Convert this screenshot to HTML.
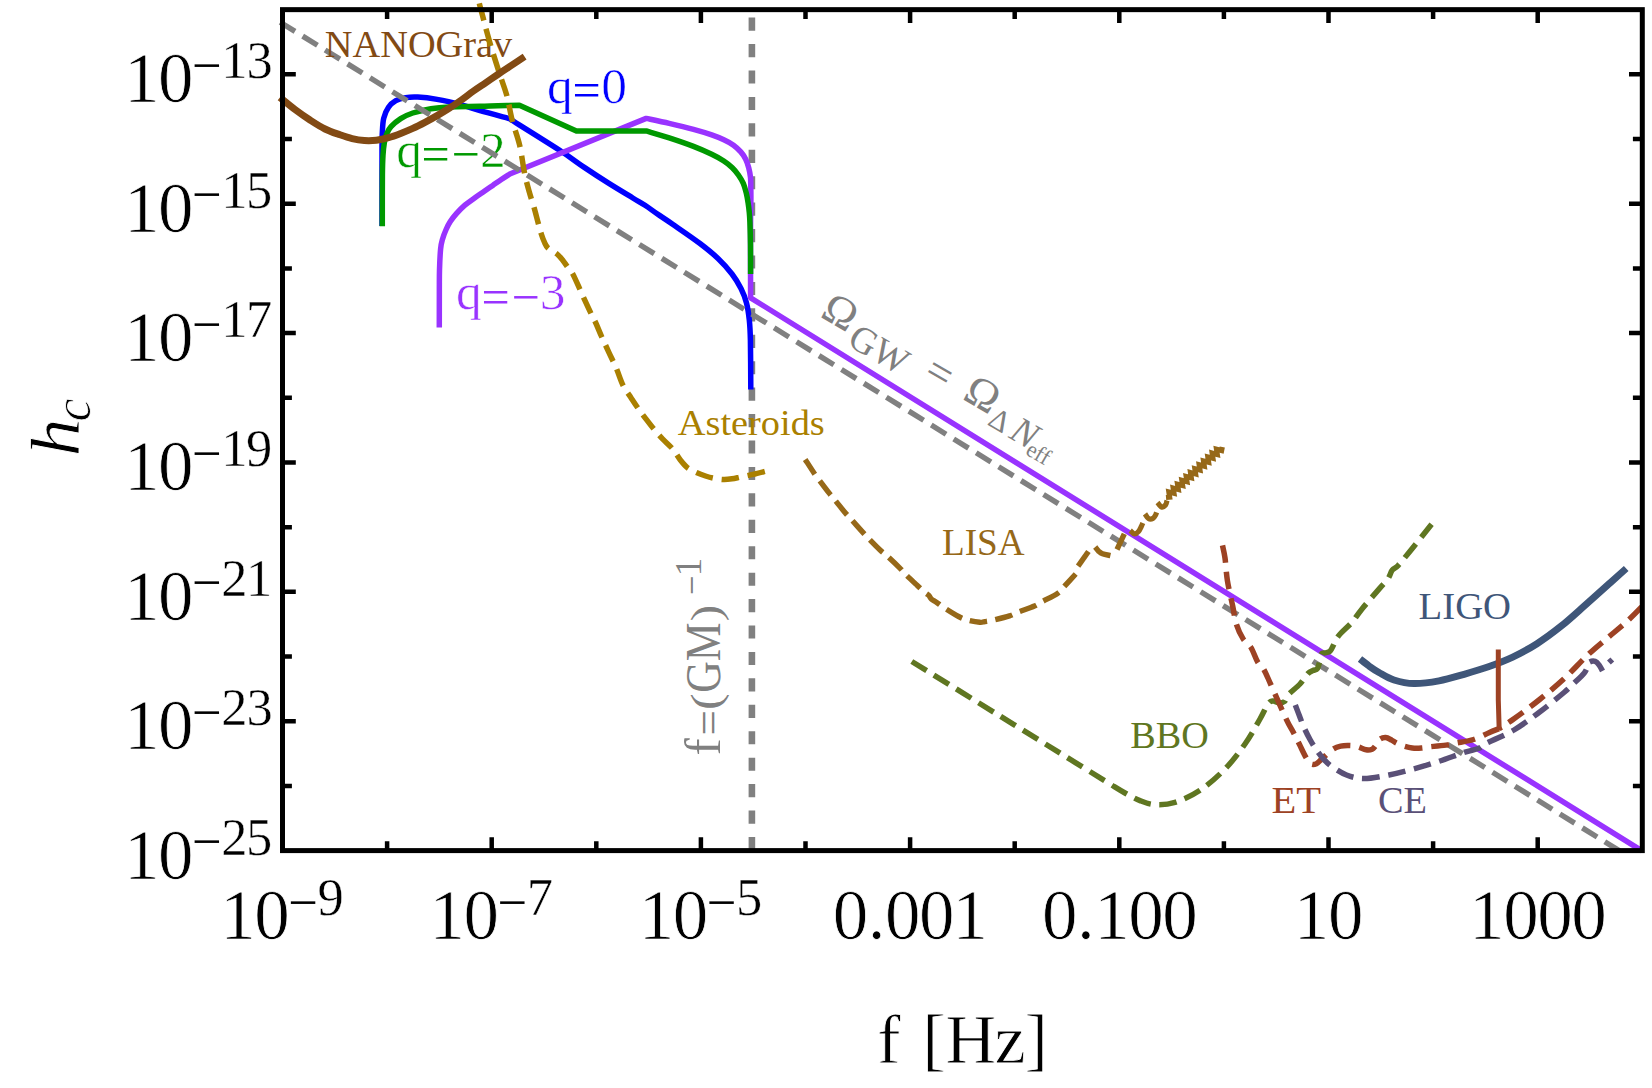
<!DOCTYPE html>
<html><head><meta charset="utf-8"><title>h_c vs f</title>
<style>html,body{margin:0;padding:0;background:#fff;}body{width:1652px;height:1088px;overflow:hidden;}svg text{white-space:pre;}</style></head>
<body>
<svg width="1652" height="1088" viewBox="0 0 1652 1088" font-family="'Liberation Serif', serif" style="display:block">
<line x1="751.9" y1="17.6" x2="751.9" y2="850" stroke="#808080" stroke-width="6.6" stroke-dasharray="13.13 13.3"/>
<path d="M382 226 C382 213.33 381.95 165.5 382 150 C382.05 134.5 382.02 138.28 382.3 133 C382.58 127.72 382.67 122.58 383.7 118.3 C384.73 114.02 386.48 110.23 388.5 107.3 C390.52 104.37 392.97 102.32 395.8 100.7 C398.63 99.08 401.85 98.22 405.5 97.6 C409.15 96.98 412.43 96.7 417.7 97 C422.97 97.3 429.82 98.08 437.1 99.4 C444.38 100.72 454.25 103.03 461.4 104.9 C468.55 106.77 472.05 108.33 480 110.6 C487.95 112.87 504.25 117.18 509.1 118.5  C517.4 123.72 546.37 141.65 558.9 149.8 C571.43 157.95 576.03 161.83 584.3 167.4 C592.57 172.97 600.42 178.1 608.5 183.2 C616.58 188.3 626.72 194.32 632.8 198 C638.88 201.68 640.95 202.67 645 205.3 C649.05 207.93 652.43 210.6 657.1 213.8 C661.77 217 665.85 219.55 673 224.5 C680.15 229.45 692.5 237.83 700 243.5 C707.5 249.17 712.67 253.42 718 258.5 C723.33 263.58 728.17 269 732 274 C735.83 279 738.58 283.67 741 288.5 C743.42 293.33 745.12 297.75 746.5 303 C747.88 308.25 748.65 313.83 749.3 320 C749.95 326.17 750.15 328.42 750.4 340 C750.65 351.58 750.73 381.25 750.8 389.5" fill="none" stroke="#0000ff" stroke-width="5.5" stroke-linejoin="round"/>
<path d="M439.3 327.5 C439.31 321.25 439.32 299.58 439.35 290 C439.38 280.42 439.29 276.85 439.5 270 C439.71 263.15 440.1 254.03 440.6 248.9 C441.1 243.77 441.58 242.43 442.5 239.2 C443.42 235.97 444.8 232.43 446.1 229.5 C447.4 226.57 448.58 224.23 450.3 221.6 C452.02 218.97 453.97 216.43 456.4 213.7 C458.83 210.97 461.87 207.82 464.9 205.2 C467.93 202.58 471.37 200.32 474.6 198 C477.83 195.68 481.27 193.4 484.3 191.3 C487.33 189.2 489.97 187.37 492.8 185.4 C495.63 183.43 498.47 181.4 501.3 179.5 C504.13 177.6 508.38 174.92 509.8 174  L646.2 118.4  C650.03 119.23 661.32 121.57 669.2 123.4 C677.08 125.23 686.42 127.48 693.5 129.4 C700.58 131.32 706.65 133.17 711.7 134.9 C716.75 136.63 720.17 138.08 723.8 139.8 C727.43 141.52 730.67 143.18 733.5 145.2 C736.33 147.22 738.77 149.57 740.8 151.9 C742.83 154.23 744.38 156.57 745.7 159.2 C747.02 161.83 747.9 164.67 748.7 167.7 C749.5 170.73 750.15 174.17 750.5 177.4 C750.85 180.63 750.73 183.47 750.8 187.1 C750.87 190.73 750.93 194.55 750.9 199.2 C750.87 203.85 750.67 209.03 750.6 215 C750.53 220.97 750.52 227.5 750.5 235 C750.48 242.5 750.48 249.53 750.5 260 C750.52 270.47 750.58 291.5 750.6 297.8  L1642 850.8" fill="none" stroke="#9933ff" stroke-width="5.5" stroke-linejoin="round"/>
<path d="M382.3 226.3 C382.32 217.75 382.28 186.88 382.4 175 C382.52 163.12 382.68 160.33 383 155 C383.32 149.67 383.7 146.5 384.3 143 C384.9 139.5 385.48 136.72 386.6 134 C387.72 131.28 388.65 129.27 391 126.7 C393.35 124.13 397.07 120.88 400.7 118.6 C404.33 116.32 407.75 114.65 412.8 113 C417.85 111.35 424.93 109.72 431 108.7 C437.07 107.68 441.03 107.3 449.2 106.9 C457.37 106.5 471.9 106.5 480 106.3 C488.1 106.1 491.23 105.88 497.8 105.7 C504.37 105.52 515.8 105.28 519.4 105.2  L576.4 130.9  L646.2 130.9  C650.03 132.07 661.32 135.32 669.2 137.9 C677.08 140.48 686.42 143.67 693.5 146.4 C700.58 149.13 706.65 151.87 711.7 154.3 C716.75 156.73 720.37 158.77 723.8 161 C727.23 163.23 729.87 165.37 732.3 167.7 C734.73 170.03 736.57 172.38 738.4 175 C740.23 177.62 741.98 180.37 743.3 183.4 C744.62 186.43 745.5 189.95 746.3 193.2 C747.1 196.45 747.6 199.67 748.1 202.9 C748.6 206.13 749 209.42 749.3 212.6 C749.6 215.78 749.7 216.6 749.9 222 C750.1 227.4 750.38 236.33 750.5 245 C750.62 253.67 750.58 269.17 750.6 274" fill="none" stroke="#009900" stroke-width="5.5" stroke-linejoin="round"/>
<text font-size="51.5" fill="#0000ff" stroke="#fff" stroke-width="0.6"><tspan x="546.97" y="102.6">q</tspan><tspan x="572.4" y="107.2" font-size="50" stroke="none">=</tspan><tspan x="601.23" y="102.6">0</tspan></text>
<text font-size="51.5" fill="#009900" stroke="#fff" stroke-width="0.6"><tspan x="396.27" y="166.6">q</tspan><tspan x="421.45" y="171.2" font-size="50" stroke="none">=</tspan><tspan x="451.5" y="171.2" font-size="50" stroke="none">−</tspan><tspan x="480.02" y="166.6">2</tspan></text>
<text font-size="51.5" fill="#9933ff" stroke="#fff" stroke-width="0.6"><tspan x="455.97" y="309.4">q</tspan><tspan x="481.6" y="314" font-size="50" stroke="none">=</tspan><tspan x="511.5" y="314" font-size="50" stroke="none">−</tspan><tspan x="539.77" y="309.4">3</tspan></text>
<line x1="280.2" y1="22.23" x2="1621.5" y2="852.09" stroke="#808080" stroke-width="5.4" stroke-dasharray="17.4 9"/>
<text x="324.8" y="56.6" font-size="37.8" fill="#824a14" textLength="187.5" lengthAdjust="spacingAndGlyphs">NANOGrav</text>
<path d="M479.3 3.4 C479.42 3.85 479.27 3.33 480 6.1 C480.73 8.87 482.73 16.32 483.7 20 C484.67 23.68 484.65 24 485.8 28.2 C486.95 32.4 489.38 41 490.6 45.2 C491.82 49.4 491.57 48.52 493.1 53.4 C494.63 58.28 497.5 67.42 499.8 74.5 C502.1 81.58 504.82 88.2 506.9 95.9 C508.98 103.6 510.18 112.52 512.3 120.7 C514.42 128.88 517.57 136.3 519.6 145 C521.63 153.7 522.88 165.07 524.5 172.9 C526.12 180.73 527.72 186.27 529.3 192 C530.88 197.73 532.52 202.12 534 207.3 C535.48 212.48 536.98 218.65 538.2 223.1 C539.42 227.55 540.28 230.87 541.3 234 C542.32 237.13 543.2 239.58 544.3 241.9 C545.4 244.22 545.78 245.88 547.9 247.9 C550.02 249.92 554.47 251.87 557 254 C559.53 256.13 561.37 258.58 563.1 260.7 C564.83 262.82 565.78 264.48 567.4 266.7 C569.02 268.92 570.68 270.15 572.8 274 C574.92 277.85 578.07 285.35 580.1 289.8 C582.13 294.25 583.18 296.75 585 300.7 C586.82 304.65 589.2 309.78 591 313.5 C592.8 317.22 594 319.08 595.8 323 C597.6 326.92 599.58 332.03 601.8 337 C604.02 341.97 606.67 347.55 609.1 352.8 C611.53 358.05 614.07 363.05 616.4 368.5 C618.73 373.95 620.67 380.63 623.1 385.5 C625.53 390.37 628.47 393.85 631 397.7 C633.53 401.55 635.88 405.17 638.3 408.6 C640.72 412.03 642.88 414.87 645.5 418.3 C648.12 421.73 651.17 425.77 654 429.2 C656.83 432.63 659.37 435.58 662.5 438.9 C665.63 442.22 669.88 445.67 672.8 449.1 C675.72 452.53 677.58 456.42 680 459.5 C682.42 462.58 684.47 465.38 687.3 467.6 C690.13 469.82 693.97 471.4 697 472.8 C700.03 474.2 702.67 475.08 705.5 476 C708.33 476.92 710.97 477.72 714 478.3 C717.03 478.88 720.7 479.42 723.7 479.5 C726.7 479.58 729.17 479.22 732 478.8 C734.83 478.38 737.2 477.73 740.7 477 C744.2 476.27 748.7 475.4 753 474.4 C757.3 473.4 764.25 471.57 766.5 471" fill="none" stroke="#aa8000" stroke-width="5.5" stroke-dasharray="17.6 8.8"/>
<text x="677.8" y="435" font-size="36.5" fill="#aa8000" textLength="147" lengthAdjust="spacingAndGlyphs">Asteroids</text>
<path d="M279.9 97.4 C282.42 99.42 289.98 105.73 295 109.5 C300.02 113.27 305 116.75 310 120 C315 123.25 320 126.53 325 129 C330 131.47 335.48 133.2 340 134.8 C344.52 136.4 348.05 137.65 352.1 138.6 C356.15 139.55 360.25 140.23 364.3 140.5 C368.35 140.77 372.37 140.68 376.4 140.2 C380.43 139.72 384.45 138.73 388.5 137.6 C392.55 136.47 396.65 134.93 400.7 133.4 C404.75 131.87 408.75 130.25 412.8 128.4 C416.85 126.55 420.95 124.43 425 122.3 C429.05 120.17 433.07 117.93 437.1 115.6 C441.13 113.27 445.15 110.9 449.2 108.3 C453.25 105.7 457.35 102.88 461.4 100 C465.45 97.12 469.47 93.87 473.5 91 C477.53 88.13 481.55 85.55 485.6 82.8 C489.65 80.05 493.75 77.23 497.8 74.5 C501.85 71.77 505.43 69.37 509.9 66.4 C514.37 63.43 522.15 58.32 524.6 56.7" fill="none" stroke="#824a14" stroke-width="7"/>
<path d="M805.2 459.4 C806.72 461.73 811.88 469.85 814.3 473.4 C816.72 476.95 817.18 477.37 819.7 480.7 C822.22 484.03 826.77 490.07 829.4 493.4 C832.03 496.73 832.87 497.47 835.5 500.7 C838.13 503.93 842.47 509.57 845.2 512.8 C847.93 516.03 849.07 516.97 851.9 520.1 C854.73 523.23 859.37 528.47 862.2 531.6 C865.03 534.73 865.97 535.87 868.9 538.9 C871.83 541.93 876.77 546.97 879.8 549.8 C882.83 552.63 883.88 552.98 887.1 555.9 C890.32 558.82 896.08 564.28 899.1 567.3 C902.12 570.32 902.17 570.97 905.2 574 C908.23 577.03 914.07 582.47 917.3 585.5 C920.53 588.53 922.68 590.55 924.6 592.2 C926.52 593.85 927.68 594.27 928.8 595.4 C929.92 596.53 929.98 597.82 931.3 599 C932.62 600.18 934.48 601 936.7 602.5 C938.92 604 940.95 605.67 944.6 608 C948.25 610.33 954.75 614.48 958.6 616.5 C962.45 618.52 964.17 619.13 967.7 620.1 C971.23 621.07 976.97 622.05 979.8 622.3 C982.63 622.55 982.47 621.97 984.7 621.6 C986.93 621.23 989.07 621.05 993.2 620.1 C997.33 619.15 1005.37 617.22 1009.5 615.9 C1013.63 614.58 1013.85 613.83 1018 612.2 C1022.15 610.57 1030.45 607.82 1034.4 606.1 C1038.35 604.38 1037.85 604.02 1041.7 601.9 C1045.55 599.78 1053.97 595.73 1057.5 593.4 C1061.03 591.07 1059.87 591.13 1062.9 587.9 C1065.93 584.67 1073.57 576.32 1075.7 574" fill="none" stroke="#966818" stroke-width="5.4" stroke-dasharray="17.5 8.43"/>
<path d="M1078.1 566.1 L1088.4 551.5" fill="none" stroke="#966818" stroke-width="5.4"/>
<path d="M1095.2 547.1 C1095.8 547.82 1097.58 550.28 1098.8 551.4 C1100.02 552.52 1100.57 553.1 1102.5 553.8 C1104.43 554.5 1109.08 555.3 1110.4 555.6" fill="none" stroke="#966818" stroke-width="5.4"/>
<path d="M1117 549.5 L1124.3 533.8" fill="none" stroke="#966818" stroke-width="5.4"/>
<path d="M1130.2 530.6 C1130.92 531.15 1133.12 533.75 1134.5 533.9 C1135.88 534.05 1137.37 532.73 1138.5 531.5 C1139.63 530.27 1140.58 527.92 1141.3 526.5 C1142.02 525.08 1142.55 523.58 1142.8 523" fill="none" stroke="#966818" stroke-width="5.2"/>
<path d="M1145 513.9 C1145.58 514.68 1147.17 517.85 1148.5 518.6 C1149.83 519.35 1151.82 519 1153 518.4 C1154.18 517.8 1155 516.02 1155.6 515 C1156.2 513.98 1156.43 512.75 1156.6 512.3" fill="none" stroke="#966818" stroke-width="5.2"/>
<path d="M1157.5 502.5 C1158.17 503.25 1160.17 506.58 1161.5 507 C1162.83 507.42 1164.58 506.08 1165.5 505 C1166.42 503.92 1166.75 501.25 1167 500.5" fill="none" stroke="#966818" stroke-width="5.2"/>
<path d="M1166 497.5 L1169.63 497.2 L1168.86 491.98 L1173.97 493.31 L1173.19 488.09 L1178.3 489.43 L1177.52 484.21 L1182.63 485.54 L1181.85 480.32 L1186.96 481.66 L1186.18 476.44 L1191.29 477.77 L1190.52 472.55 L1195.62 473.89 L1194.85 468.67 L1199.95 470 L1199.18 464.79 L1204.28 466.12 L1203.51 460.9 L1208.61 462.23 L1207.84 457.02 L1212.94 458.35 L1212.17 453.13 L1217.27 454.46 L1216.5 449.25 L1221.6 450.58 L1222.3 447" fill="none" stroke="#966818" stroke-width="5.2" stroke-linejoin="miter"/>
<text x="942" y="554.8" font-size="37.8" fill="#966818" textLength="82.5" lengthAdjust="spacingAndGlyphs">LISA</text>
<path d="M911.8 661.5 C926.5 670.58 972.8 699.2 1000 716 C1027.2 732.8 1056.67 750.97 1075 762.3 C1093.33 773.63 1101.67 778.88 1110 784 C1118.33 789.12 1120 790.23 1125 793 C1130 795.77 1135 798.67 1140 800.6 C1145 802.53 1149.17 804.3 1155 804.6 C1160.83 804.9 1167.5 804.78 1175 802.4 C1182.5 800.02 1191.67 795.87 1200 790.3 C1208.33 784.73 1217.5 776.72 1225 769 C1232.5 761.28 1239.17 752.33 1245 744 C1250.83 735.67 1256.17 725.67 1260 719 C1263.83 712.33 1265.83 707 1268 704 C1270.17 701 1271.17 701.2 1273 701 C1274.83 700.8 1277.08 702.72 1279 702.8 C1280.92 702.88 1283 702.8 1284.5 701.5 C1286 700.2 1285.42 697.92 1288 695 C1290.58 692.08 1296.67 687.58 1300 684 C1303.33 680.42 1305.83 675.75 1308 673.5 C1310.17 671.25 1311.42 671.33 1313 670.5 C1314.58 669.67 1316.33 670.25 1317.5 668.5 C1318.67 666.75 1319.33 662.45 1320 660 C1320.67 657.55 1320.67 654.98 1321.5 653.8 C1322.33 652.62 1323.58 653.32 1325 652.9 C1326.42 652.48 1328.58 652.62 1330 651.3 C1331.42 649.98 1332.58 646.8 1333.5 645 C1334.42 643.2 1334.4 642.33 1335.5 640.5 C1336.6 638.67 1337.3 637.1 1340.1 634 C1342.9 630.9 1348.68 626.03 1352.3 621.9 C1355.92 617.77 1357.28 614.75 1361.8 609.2 C1366.32 603.65 1375.05 593.65 1379.4 588.6 C1383.75 583.55 1385.77 581.97 1387.9 578.9 C1390.03 575.83 1390.47 572.47 1392.2 570.2 C1393.93 567.93 1395.47 568.3 1398.3 565.3 C1401.13 562.3 1403.65 559.03 1409.2 552.2 C1414.75 545.37 1427.87 528.95 1431.6 524.3" fill="none" stroke="#5f7621" stroke-width="5.5" stroke-dasharray="17.6 8.52"/>
<text x="1130.3" y="748.3" font-size="37.8" fill="#5f7621" textLength="78.5" lengthAdjust="spacingAndGlyphs">BBO</text>
<path d="M1360 659 C1361.5 660.17 1365.83 663.75 1369 666 C1372.17 668.25 1374.83 670.17 1379 672.5 C1383.17 674.83 1388.17 678.15 1394 680 C1399.83 681.85 1406.5 683.45 1414 683.6 C1421.5 683.75 1430.65 682.45 1439 680.9 C1447.35 679.35 1455.87 676.65 1464.1 674.3 C1472.33 671.95 1480.3 669.67 1488.4 666.8 C1496.5 663.93 1504.6 660.95 1512.7 657.1 C1520.8 653.25 1528.92 648.87 1537 643.7 C1545.08 638.53 1553.12 632.57 1561.2 626.1 C1569.28 619.63 1577.4 612.07 1585.5 604.9 C1593.6 597.73 1603.02 589.17 1609.8 583.1 C1616.58 577.03 1623.47 570.93 1626.2 568.5" fill="none" stroke="#3f5679" stroke-width="7"/>
<text x="1418.6" y="619" font-size="37.8" fill="#3f5679" textLength="92.5" lengthAdjust="spacingAndGlyphs">LIGO</text>
<path d="M1222.5 545.4 C1222.92 547.5 1224.18 552.13 1225 558 C1225.82 563.87 1226.12 572.58 1227.4 580.6 C1228.68 588.62 1231.2 598.82 1232.7 606.1 C1234.2 613.38 1234.67 618.83 1236.4 624.3 C1238.13 629.77 1240.68 635.05 1243.1 638.9 C1245.52 642.75 1248.48 643.57 1250.9 647.4 C1253.32 651.23 1255.47 658.27 1257.6 661.9 C1259.73 665.53 1261.47 665.35 1263.7 669.2 C1265.93 673.05 1267.27 676.73 1271 685 C1274.73 693.27 1282.38 710.93 1286.1 718.8 C1289.82 726.67 1291.08 727.95 1293.3 732.2 C1295.52 736.45 1297.27 740.05 1299.4 744.3 C1301.53 748.55 1304.18 754.43 1306.1 757.7 C1308.02 760.97 1309.18 762.9 1310.9 763.9 C1312.62 764.9 1314.57 764.53 1316.4 763.7 C1318.23 762.87 1319.27 761.22 1321.9 758.9 C1324.53 756.58 1329.07 751.93 1332.2 749.8 C1335.33 747.67 1337.77 746.82 1340.7 746.1 C1343.63 745.38 1346.97 745.4 1349.8 745.5 C1352.63 745.6 1354.97 745.98 1357.7 746.7 C1360.43 747.42 1363.78 749.38 1366.2 749.8 C1368.62 750.22 1370.68 749.82 1372.2 749.2 C1373.72 748.58 1374.08 747.72 1375.3 746.1 C1376.52 744.48 1377.78 740.92 1379.5 739.5 C1381.22 738.08 1383.57 737.5 1385.6 737.6 C1387.63 737.7 1389.88 739.18 1391.7 740.1 C1393.52 741.02 1394.48 742.1 1396.5 743.1 C1398.52 744.1 1401.17 745.28 1403.8 746.1 C1406.43 746.92 1409.37 747.68 1412.3 748 C1415.23 748.32 1418.37 748.22 1421.4 748 C1424.43 747.78 1426.15 747.22 1430.5 746.7 C1434.85 746.18 1443.25 745.5 1447.5 744.9 C1451.75 744.3 1451.65 744 1456 743.1 C1460.35 742.2 1468.1 741.23 1473.6 739.5 C1479.1 737.77 1484.77 734.5 1489 732.7 C1493.23 730.9 1497.33 729.37 1499 728.7" fill="none" stroke="#9d4224" stroke-width="5.5" stroke-dasharray="17.6 9.16"/>
<path d="M1499.2 730 L1498.3 700 L1498.3 649.6" fill="none" stroke="#9d4224" stroke-width="5"/>
<path d="M1641.5 607 C1639.42 609.08 1633.58 615.25 1629 619.5 C1624.42 623.75 1620.67 626.78 1614 632.5 C1607.33 638.22 1597.33 646.08 1589 653.8 C1580.67 661.52 1572.33 671.1 1564 678.8 C1555.67 686.5 1547.33 693.33 1539 700 C1530.67 706.67 1520.67 714.02 1514 718.8 C1507.33 723.58 1501.5 727.05 1499 728.7" fill="none" stroke="#9d4224" stroke-width="5.5" stroke-dasharray="17.6 8.8"/>
<text x="1271.5" y="813.1" font-size="37.8" fill="#9d4224" textLength="49.5" lengthAdjust="spacingAndGlyphs">ET</text>
<path d="M1295.3 705 C1296 706.83 1298.05 712.25 1299.5 716 C1300.95 719.75 1302.25 723.58 1304 727.5 C1305.75 731.42 1307.92 735.75 1310 739.5 C1312.08 743.25 1314.25 746.75 1316.5 750 C1318.75 753.25 1321 756.28 1323.5 759 C1326 761.72 1327.67 763.63 1331.5 766.3 C1335.33 768.97 1341.08 772.95 1346.5 775 C1351.92 777.05 1356.92 778.6 1364 778.6 C1371.08 778.6 1380.67 776.63 1389 775 C1397.33 773.37 1405.67 771.08 1414 768.8 C1422.33 766.52 1430.67 764.02 1439 761.3 C1447.33 758.58 1457.33 754.67 1464 752.5 C1470.67 750.33 1475.67 749.63 1479 748.3 C1482.33 746.97 1482.33 745.55 1484 744.5 C1485.67 743.45 1484 744.42 1489 742 C1494 739.58 1505.67 734.92 1514 730 C1522.33 725.08 1530.67 718.75 1539 712.5 C1547.33 706.25 1558.27 697.28 1564 692.5 C1569.73 687.72 1570.02 687.07 1573.4 683.8 C1576.78 680.53 1581.93 675.78 1584.3 672.9 C1586.67 670.02 1586.77 668.28 1587.6 666.5 C1588.43 664.72 1588.03 663.05 1589.3 662.2 C1590.57 661.35 1593.5 660.83 1595.2 661.4 C1596.9 661.97 1598.27 663.97 1599.5 665.6 C1600.73 667.23 1602.08 670.27 1602.6 671.2" fill="none" stroke="#5a5077" stroke-width="5.5" stroke-dasharray="17.6 8.8"/>
<path d="M1608.9 662.6 L1612.3 659.4" fill="none" stroke="#5a5077" stroke-width="5.5"/>
<text x="1378" y="813.1" font-size="37.8" fill="#5a5077" textLength="49" lengthAdjust="spacingAndGlyphs">CE</text>
<g transform="translate(821.2,317.6) rotate(30)" fill="#808080"><text x="-2.5" y="0" font-size="44" textLength="33" lengthAdjust="spacingAndGlyphs">Ω</text><text x="35" y="10.8" font-size="37.5" textLength="62" lengthAdjust="spacingAndGlyphs">GW</text><text x="117.6" y="3" font-size="45">=</text><text x="161.6" y="0" font-size="44" textLength="33" lengthAdjust="spacingAndGlyphs">Ω</text><text x="196.5" y="9.6" font-size="30.5" textLength="19" lengthAdjust="spacingAndGlyphs">Δ</text><text x="221.5" y="10.3" font-size="37.5" font-style="italic" textLength="25" lengthAdjust="spacingAndGlyphs">N</text><text x="244" y="16.2" font-size="23" textLength="24" lengthAdjust="spacingAndGlyphs">eff</text></g>
<g transform="translate(720.2,755.5) rotate(-90)" fill="#808080" font-size="51.5"><text x="0" y="0">f</text><text x="20" y="2.9" font-size="45">=</text><text x="45.5" y="0" font-size="42" textLength="16.5" lengthAdjust="spacingAndGlyphs">(</text><text x="62.7" y="0" textLength="70.5" lengthAdjust="spacingAndGlyphs">GM</text><text x="134.2" y="0" font-size="42" textLength="16.5" lengthAdjust="spacingAndGlyphs">)</text><text x="160.4" y="-15.8" font-size="37" textLength="19.5" lengthAdjust="spacingAndGlyphs">−</text><text x="179.2" y="-18.8" font-size="37">1</text></g>
<rect x="282.5" y="9.65" width="1359.8" height="840.95" fill="none" stroke="#000" stroke-width="5"/>
<path d="M387.1 850.6 v-9.4 M387.1 9.65 v9.4 M491.7 850.6 v-13.3 M491.7 9.65 v13.3 M596.3 850.6 v-9.4 M596.3 9.65 v9.4 M700.9 850.6 v-13.3 M700.9 9.65 v13.3 M805.5 850.6 v-9.4 M805.5 9.65 v9.4 M910.1 850.6 v-13.3 M910.1 9.65 v13.3 M1014.7 850.6 v-9.4 M1014.7 9.65 v9.4 M1119.3 850.6 v-13.3 M1119.3 9.65 v13.3 M1223.9 850.6 v-9.4 M1223.9 9.65 v9.4 M1328.5 850.6 v-13.3 M1328.5 9.65 v13.3 M1433.1 850.6 v-9.4 M1433.1 9.65 v9.4 M1537.7 850.6 v-13.3 M1537.7 9.65 v13.3 M282.5 785.91 h9.4 M1642.3 785.91 h-9.4 M282.5 721.22 h13.3 M1642.3 721.22 h-13.3 M282.5 656.53 h9.4 M1642.3 656.53 h-9.4 M282.5 591.85 h13.3 M1642.3 591.85 h-13.3 M282.5 527.16 h9.4 M1642.3 527.16 h-9.4 M282.5 462.47 h13.3 M1642.3 462.47 h-13.3 M282.5 397.78 h9.4 M1642.3 397.78 h-9.4 M282.5 333.09 h13.3 M1642.3 333.09 h-13.3 M282.5 268.4 h9.4 M1642.3 268.4 h-9.4 M282.5 203.72 h13.3 M1642.3 203.72 h-13.3 M282.5 139.03 h9.4 M1642.3 139.03 h-9.4 M282.5 74.34 h13.3 M1642.3 74.34 h-13.3" fill="none" stroke="#000" stroke-width="4.5"/>
<text x="124.02 157.95" y="878.6" font-size="71" stroke="#fff" stroke-width="0.75">10</text>
<text x="192" y="859.2" font-size="52.5">−</text>
<text x="221.27 246.12" y="854.6" font-size="52.5" stroke="#fff" stroke-width="0.4">25</text>
<text x="124.02 157.95" y="749.22" font-size="71" stroke="#fff" stroke-width="0.75">10</text>
<text x="192" y="729.82" font-size="52.5">−</text>
<text x="221.27 246.39" y="725.22" font-size="52.5" stroke="#fff" stroke-width="0.4">23</text>
<text x="124.02 157.95" y="619.85" font-size="71" stroke="#fff" stroke-width="0.75">10</text>
<text x="192" y="600.45" font-size="52.5">−</text>
<text x="221.27 245.99" y="595.85" font-size="52.5" stroke="#fff" stroke-width="0.4">21</text>
<text x="124.02 157.95" y="490.47" font-size="71" stroke="#fff" stroke-width="0.75">10</text>
<text x="192" y="471.07" font-size="52.5">−</text>
<text x="221.14 246.12" y="466.47" font-size="52.5" stroke="#fff" stroke-width="0.4">19</text>
<text x="124.02 157.95" y="361.09" font-size="71" stroke="#fff" stroke-width="0.75">10</text>
<text x="192" y="341.69" font-size="52.5">−</text>
<text x="221.14 246.12" y="337.09" font-size="52.5" stroke="#fff" stroke-width="0.4">17</text>
<text x="124.02 157.95" y="231.72" font-size="71" stroke="#fff" stroke-width="0.75">10</text>
<text x="192" y="212.32" font-size="52.5">−</text>
<text x="221.14 246.12" y="207.72" font-size="52.5" stroke="#fff" stroke-width="0.4">15</text>
<text x="124.02 157.95" y="102.34" font-size="71" stroke="#fff" stroke-width="0.75">10</text>
<text x="192" y="82.94" font-size="52.5">−</text>
<text x="221.14 246.39" y="78.34" font-size="52.5" stroke="#fff" stroke-width="0.4">13</text>
<text x="220.32 254.25" y="938.9" font-size="71" stroke="#fff" stroke-width="0.75">10</text>
<text x="288.3" y="919.5" font-size="52.5">−</text>
<text x="317.62" y="914.9" font-size="52.5" stroke="#fff" stroke-width="0.4">9</text>
<text x="429.52 463.45" y="938.9" font-size="71" stroke="#fff" stroke-width="0.75">10</text>
<text x="497.49" y="919.5" font-size="52.5">−</text>
<text x="526.82" y="914.9" font-size="52.5" stroke="#fff" stroke-width="0.4">7</text>
<text x="638.72 672.65" y="938.9" font-size="71" stroke="#fff" stroke-width="0.75">10</text>
<text x="706.7" y="919.5" font-size="52.5">−</text>
<text x="736.02" y="914.9" font-size="52.5" stroke="#fff" stroke-width="0.4">5</text>
<text x="832.75 867.67 885.1 919.05 952.57" y="938.9" font-size="71" stroke="#fff" stroke-width="0.75">0.001</text>
<text x="1042 1076.92 1094.17 1128.35 1162.35" y="938.9" font-size="71" stroke="#fff" stroke-width="0.75">0.100</text>
<text x="1293.87 1328.1" y="938.9" font-size="71" stroke="#fff" stroke-width="0.75">10</text>
<text x="1468.97 1503.15 1537.15 1571.15" y="938.9" font-size="71" stroke="#fff" stroke-width="0.75">1000</text>
<text x="877.1 905 922.3 945.2 994.4 1024.6" y="1062.5" font-size="70.5" stroke="#fff" stroke-width="0.8">f [Hz]</text>
<g transform="translate(78.6,456.6) rotate(-90)" stroke="#fff" stroke-width="0.8"><text x="0" y="0" font-size="70" font-style="italic" textLength="38" lengthAdjust="spacingAndGlyphs">h</text><text x="35" y="11.5" font-size="52" font-style="italic">c</text></g>
</svg>
</body></html>
